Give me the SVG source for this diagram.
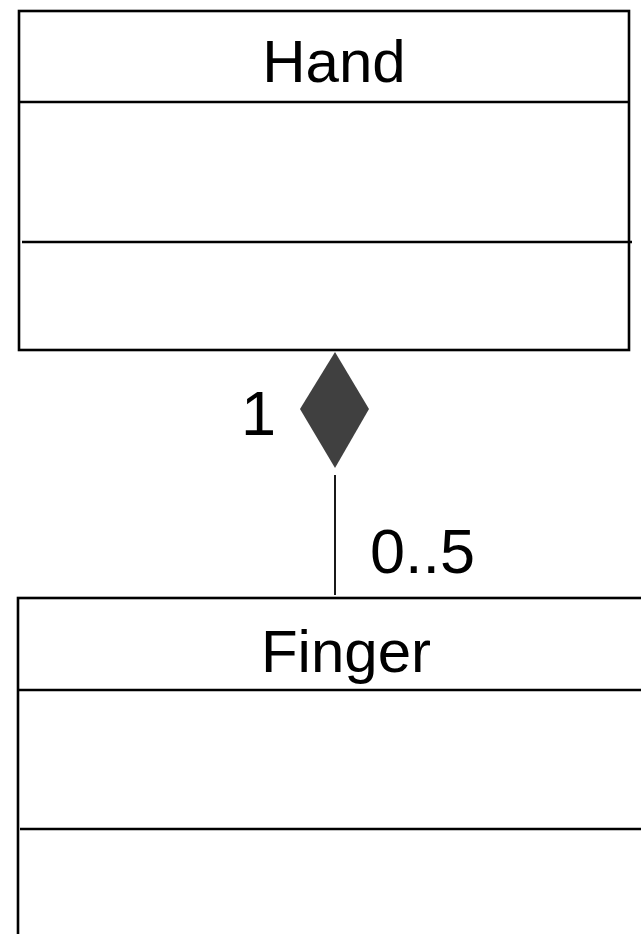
<svg xmlns="http://www.w3.org/2000/svg" width="641" height="934" viewBox="0 0 641 934">
<style>
.box{fill:#fff;stroke:#000;stroke-width:2.6}
.sep{stroke:#000;stroke-width:2.6}
.name{font-family:"Liberation Sans",Arial,sans-serif;font-size:60px;fill:#000;text-anchor:middle}
.mult{font-family:"Liberation Sans",Arial,sans-serif;font-size:63px;fill:#000}
</style>
<rect width="641" height="934" fill="#fff"/>
<g id="hand">
<rect class="box" x="19" y="11" width="610" height="339"/>
<line class="sep" x1="19" y1="102" x2="629" y2="102"/>
<line class="sep" x1="22" y1="242" x2="632" y2="242"/>
<text class="name" x="334" y="82">Hand</text>
</g>
<g id="finger">
<rect class="box" x="18" y="598" width="680" height="400"/>
<line class="sep" x1="18" y1="690" x2="641" y2="690"/>
<line class="sep" x1="20" y1="829" x2="641" y2="829"/>
<text class="name" x="346" y="672">Finger</text>
</g>
<g id="connectors">
<line x1="335" y1="475" x2="335" y2="595" stroke="#000" stroke-width="1.8"/>
<polygon points="335,352 369,409 335,468 300,409" fill="#404040"/>
<text class="mult" x="241" y="435">1</text>
<text class="mult" x="370" y="573">0..5</text>
</g>
</svg>
